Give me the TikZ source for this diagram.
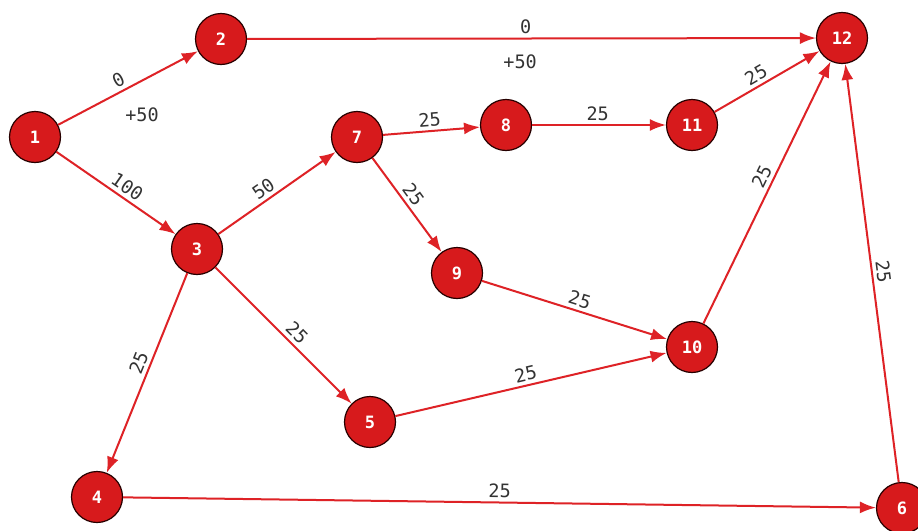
\documentclass[tikz,border=0pt]{standalone}
\usepackage{fontspec}
\newfontfamily\monof{DejaVu Sans Mono}
\usetikzlibrary{arrows.meta}
\definecolor{nodefill}{HTML}{D71A1C}
\definecolor{edgecol}{HTML}{DE2226}
\definecolor{labcol}{HTML}{333333}
\tikzset{
  vtx/.style={circle, draw=black!85!red, line width=1.2pt, fill=nodefill, minimum size=51pt, inner sep=0pt, text=white, font=\monof\bfseries\fontsize{17}{17}\selectfont},
  edg/.style={draw=edgecol, line width=2pt, -{Latex[length=16pt,width=12pt]}},
  lab/.style={sloped, above, text=labcol, inner sep=3.5pt, font=\monof\fontsize{18.5}{18.5}\selectfont},
  plab/.style={text=labcol, inner sep=2pt, anchor=center, font=\monof\fontsize{18.5}{18.5}\selectfont}
}
\begin{document}
\begin{tikzpicture}[x=1pt,y=-1pt]
\path[use as bounding box, fill=white] (0,0) rectangle (918,530);
\node[vtx] (n1) at (35,137) {1};
\node[vtx] (n2) at (221,39) {2};
\node[vtx] (n12) at (842,38) {12};
\node[vtx] (n7) at (357,137) {7};
\node[vtx] (n8) at (506,125) {8};
\node[vtx] (n11) at (692,125) {11};
\node[vtx] (n3) at (197,249) {3};
\node[vtx] (n9) at (457,273) {9};
\node[vtx] (n10) at (692,347) {10};
\node[vtx] (n5) at (370,422) {5};
\node[vtx] (n4) at (97,497) {4};
\node[vtx] (n6) at (902,508) {6};

\draw[edg] (n1) -- node[lab, pos=0.47] {0} node[plab, pos=0.6, yshift=-34pt] {+50} (n2);
\draw[edg] (n1) -- node[lab, pos=0.54] {100} (n3);
\draw[edg] (n2) -- node[lab, pos=0.49] {0} node[plab, pos=0.48, yshift=-23pt] {+50} (n12);
\draw[edg] (n3) -- node[lab, pos=0.44] {50} (n7);
\draw[edg] (n7) -- node[lab, pos=0.49] {25} (n8);
\draw[edg] (n8) -- node[lab, pos=0.49] {25} (n11);
\draw[edg] (n11) -- node[lab, pos=0.45] {25} (n12);
\draw[edg] (n7) -- node[lab, pos=0.46] {25} (n9);
\draw[edg] (n9) -- node[lab, pos=0.51] {25} (n10);
\draw[edg] (n3) -- node[lab, pos=0.54] {25} (n5);
\draw[edg] (n5) -- node[lab, pos=0.49] {25} (n10);
\draw[edg] (n3) -- node[lab, pos=0.47] {25} (n4);
\draw[edg] (n10) -- node[lab, pos=0.54] {25} (n12);
\draw[edg] (n4) -- node[lab, pos=0.5] {25} (n6);
\draw[edg] (n6) -- node[lab, pos=0.5] {25} (n12);
\end{tikzpicture}
\end{document}
